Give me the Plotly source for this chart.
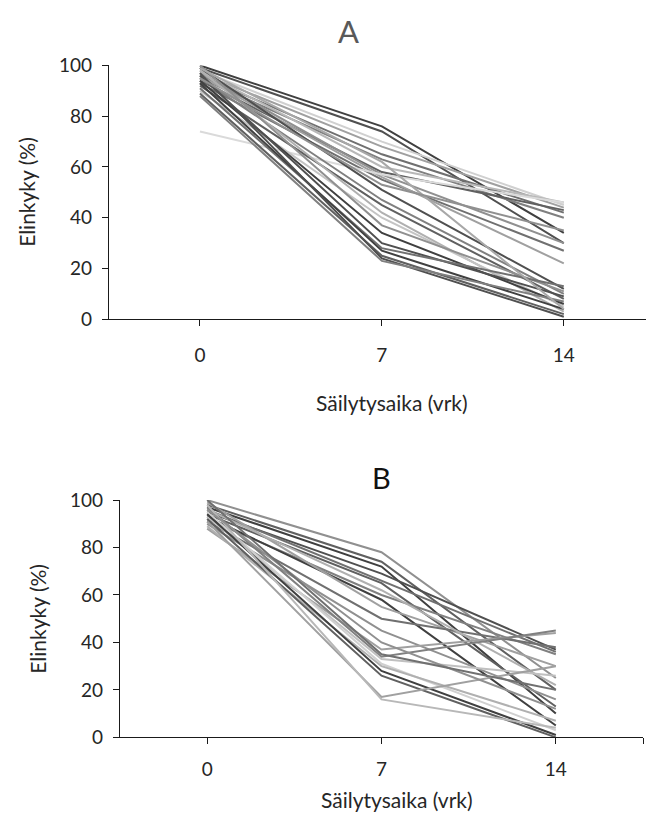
import plotly.graph_objects as go

days = [0, 7, 14]
day_labels = ["0", "7", "14"]

# Panel A series: values at day 0, 7, 14 (%)
a_vals = [
    [100, 76, 34], [99, 74, 30], [98, 70, 45], [97, 68, 44], [96, 65, 42],
    [95, 63, 40], [98, 60, 46], [94, 58, 43], [97, 57, 30], [93, 55, 27],
    [96, 56, 22], [74, 57, 46], [99, 51, 12], [95, 47, 10], [92, 45, 8],
    [98, 42, 3], [90, 40, 5], [100, 37, 11], [94, 34, 6], [96, 30, 9],
    [91, 28, 13], [93, 27, 4], [89, 25, 2], [97, 24, 1], [88, 23, 7],
    [99, 62, 4], [95, 53, 35],
]
a_colors = [
    "#404040", "#505050", "#d0d0d0", "#a0a0a0", "#707070",
    "#808080", "#b8b8b8", "#606060", "#909090", "#707070",
    "#a0a0a0", "#dadada", "#505050", "#808080", "#606060",
    "#b0b0b0", "#c4c4c4", "#909090", "#404040", "#505050",
    "#707070", "#404040", "#606060", "#505050", "#808080",
    "#a8a8a8", "#909090",
]

# Panel B series
b_vals = [
    [100, 78, 25], [98, 74, 20], [97, 72, 10], [95, 69, 37], [96, 66, 36],
    [94, 65, 13], [92, 60, 35], [93, 58, 5], [99, 55, 30], [91, 50, 38],
    [96, 62, 22], [90, 45, 16], [88, 37, 44], [97, 34, 45], [93, 33, 26],
    [95, 31, 3], [89, 30, 7], [94, 28, 1], [92, 26, 0], [91, 17, 30],
    [98, 16, 4], [96, 40, 12], [100, 35, 20],
]
b_colors = [
    "#909090", "#606060", "#404040", "#505050", "#707070",
    "#606060", "#808080", "#404040", "#a0a0a0", "#707070",
    "#b0b0b0", "#909090", "#a0a0a0", "#808080", "#c0c0c0",
    "#d0d0d0", "#b0b0b0", "#404040", "#606060", "#a0a0a0",
    "#b8b8b8", "#909090", "#707070",
]

W, H = 646, 830
FONT = "Lato"
TXT = "#262626"

fig = go.Figure()
for v, c in zip(a_vals, a_colors):
    fig.add_trace(go.Scatter(x=days, y=v, mode="lines", line=dict(color=c, width=2),
                             xaxis="x", yaxis="y", showlegend=False, hoverinfo="skip"))
for v, c in zip(b_vals, b_colors):
    fig.add_trace(go.Scatter(x=days, y=v, mode="lines", line=dict(color=c, width=2),
                             xaxis="x2", yaxis="y2", showlegend=False, hoverinfo="skip"))

def px_x(p):
    return p / W

def px_y(p):
    return 1 - p / H

axis_common = dict(showgrid=False, zeroline=False, showline=True, linecolor="#1a1a1a",
                   linewidth=1.3, ticks="outside", ticklen=6, tickcolor="#1a1a1a",
                   tickwidth=1.3, tickfont=dict(family=FONT, size=19, color=TXT))

fig.update_layout(
    width=W, height=H, margin=dict(l=0, r=0, t=0, b=0),
    paper_bgcolor="white", plot_bgcolor="white",
    xaxis=dict(domain=[px_x(109), 1.0], range=[-3.5, 14 + (646 - 564) / 181.5 * 7],
               tickvals=days, ticktext=day_labels, anchor="y", ticklabelstandoff=13, **axis_common),
    yaxis=dict(domain=[px_y(316), px_y(55)], range=[0, 100], tickvals=[0, 20, 40, 60, 80, 100],
               anchor="x", ticklabelstandoff=6, **axis_common),
    xaxis2=dict(domain=[px_x(120), px_x(643)], range=[-3.5, 17.5],
                tickvals=days + [17.5], ticktext=day_labels + [""], anchor="y2",
                ticklabelstandoff=9, **axis_common),
    yaxis2=dict(domain=[px_y(746), px_y(502)], range=[0, 100], tickvals=[0, 20, 40, 60, 80, 100],
                anchor="x2", ticklabelstandoff=6, **axis_common),
)

ann = [
    dict(text="A", x=px_x(348), y=px_y(20), font=dict(family=FONT, size=31, color="#595959")),
    dict(text="B", x=px_x(381), y=px_y(479), font=dict(family=FONT, size=29, color="#111111")),
    dict(text="Säilytysaika (vrk)", x=px_x(392), y=px_y(402), font=dict(family=FONT, size=21, color=TXT)),
    dict(text="Säilytysaika (vrk)", x=px_x(397), y=px_y(810), font=dict(family=FONT, size=21, color=TXT)),
    dict(text="Elinkyky (%)", x=px_x(27), y=px_y(185), textangle=-90, font=dict(family=FONT, size=21, color=TXT)),
    dict(text="Elinkyky (%)", x=px_x(38), y=px_y(624), textangle=-90, font=dict(family=FONT, size=21, color=TXT)),
]
for a in ann:
    fig.add_annotation(xref="paper", yref="paper", showarrow=False, xanchor="center", yanchor="middle", **a)

fig.write_html("out.html", config={"displayModeBar": False},
               post_script="document.body.style.margin='0px';")
